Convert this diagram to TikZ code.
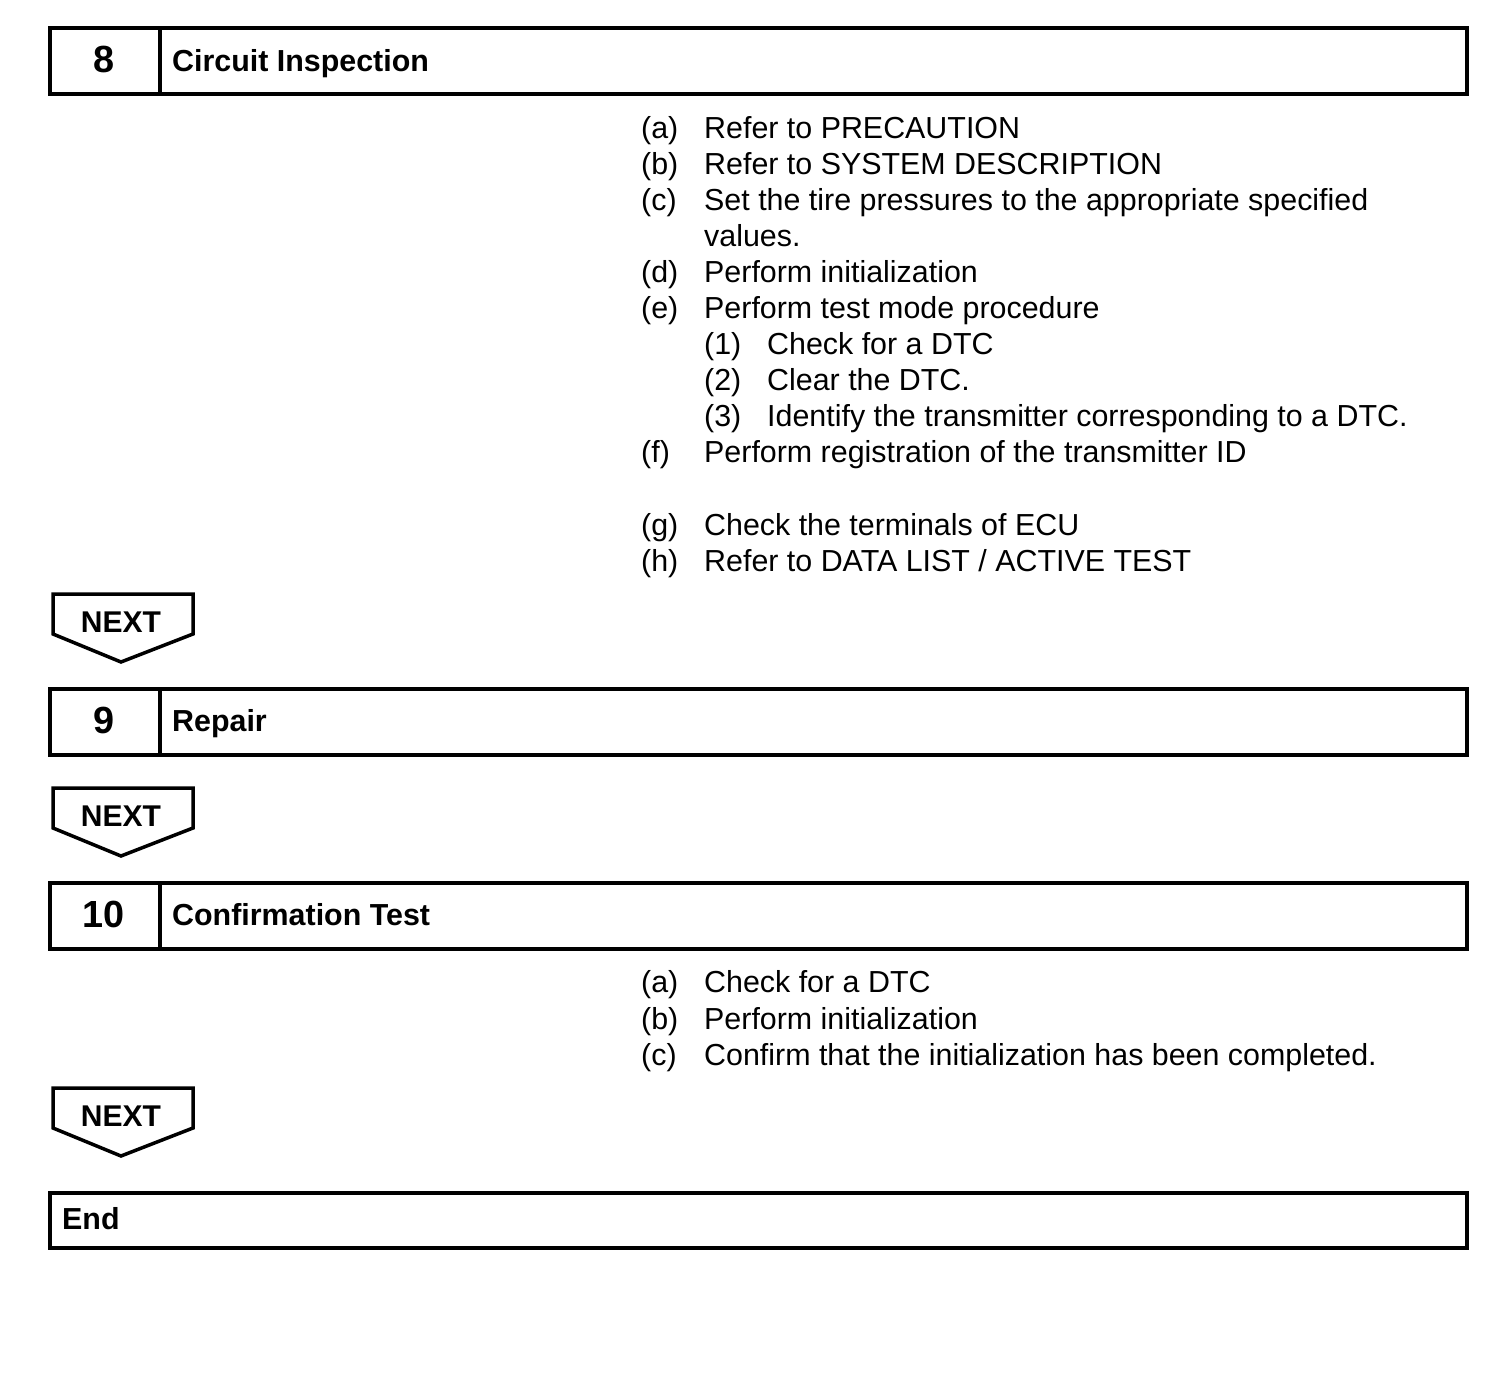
\documentclass[tikz,border=0pt]{standalone}
\usepackage{fontspec}
\setmainfont{Liberation Sans}
\begin{document}
\begin{tikzpicture}[x=1pt,y=-1pt,
  frame/.style={draw, line width=4pt},
  nextshape/.style={draw, line width=3.5pt, line join=miter},
  body/.style={font=\fontsize{30.4}{36}\selectfont, anchor=base west, inner sep=0pt},
  head/.style={font=\fontsize{30.4}{36}\selectfont\bfseries, anchor=base west, inner sep=0pt},
  nexttext/.style={font=\fontsize{30}{36}\selectfont\bfseries, anchor=base, inner sep=0pt},
  num/.style={font=\fontsize{37.8}{44}\selectfont\bfseries, anchor=base, inner sep=0pt}]
\path[use as bounding box] (0,0) rectangle (1504,1392);

% Step 8
\draw[frame] (50,28) rectangle (1467,94);
\draw[frame] (160,28) -- (160,94);
\node[num] (n8) at (104,72) {8};
\node[head] (h8) at (172,71) {Circuit Inspection};

\node[body] (l8a) at (641,138) {(a)};
\node[body] (t8a) at (704,138) {Refer to PRECAUTION};
\node[body] (l8b) at (641,174) {(b)};
\node[body] (t8b) at (704,174) {Refer to SYSTEM DESCRIPTION};
\node[body] (l8c) at (641,210) {(c)};
\node[body] (t8c) at (704,210) {Set the tire pressures to the appropriate specified};
\node[body] (t8c2) at (704,246) {values.};
\node[body] (l8d) at (641,282) {(d)};
\node[body] (t8d) at (704,282) {Perform initialization};
\node[body] (l8e) at (641,318) {(e)};
\node[body] (t8e) at (704,318) {Perform test mode procedure};
\node[body] (l8e1) at (704,354) {(1)};
\node[body] (t8e1) at (767,354) {Check for a DTC};
\node[body] (l8e2) at (704,390) {(2)};
\node[body] (t8e2) at (767,390) {Clear the DTC.};
\node[body] (l8e3) at (704,426) {(3)};
\node[body] (t8e3) at (767,426) {Identify the transmitter corresponding to a DTC.};
\node[body] (l8f) at (641,462) {(f)};
\node[body] (t8f) at (704,462) {Perform registration of the transmitter ID};
\node[body] (l8g) at (641,535) {(g)};
\node[body] (t8g) at (704,535) {Check the terminals of ECU};
\node[body] (l8h) at (641,571) {(h)};
\node[body] (t8h) at (704,571) {Refer to DATA LIST / ACTIVE TEST};

% NEXT 1
\draw[nextshape] (53,594) -- (193,594) -- (193,634) -- (121,662) -- (53,634) -- cycle;
\node[nexttext] (next1) at (121,632) {NEXT};

% Step 9
\draw[frame] (50,689) rectangle (1467,755);
\draw[frame] (160,689) -- (160,755);
\node[num] (n9) at (104,733) {9};
\node[head] (h9) at (172,731) {Repair};

% NEXT 2
\draw[nextshape] (53,788) -- (193,788) -- (193,828) -- (121,856) -- (53,828) -- cycle;
\node[nexttext] (next2) at (121,826) {NEXT};

% Step 10
\draw[frame] (50,883) rectangle (1467,949);
\draw[frame] (160,883) -- (160,949);
\node[num] (n10) at (104,927) {10};
\node[head] (h10) at (172,925) {Confirmation Test};

\node[body] (l10a) at (641,992) {(a)};
\node[body] (t10a) at (704,992) {Check for a DTC};
\node[body] (l10b) at (641,1029) {(b)};
\node[body] (t10b) at (704,1029) {Perform initialization};
\node[body] (l10c) at (641,1065) {(c)};
\node[body] (t10c) at (704,1065) {Confirm that the initialization has been completed.};

% NEXT 3
\draw[nextshape] (53,1088) -- (193,1088) -- (193,1128) -- (121,1156) -- (53,1128) -- cycle;
\node[nexttext] (next3) at (121,1126) {NEXT};

% End
\draw[frame] (50,1193) rectangle (1467,1248);
\node[head] (hend) at (62,1229) {End};
\end{tikzpicture}
\end{document}
